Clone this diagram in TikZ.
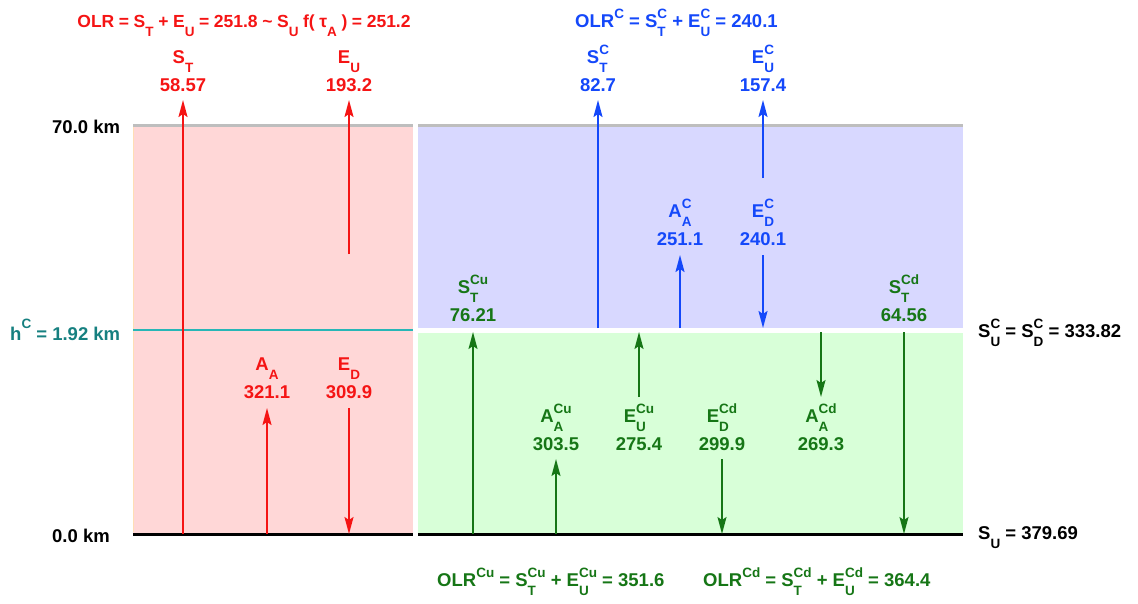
\documentclass[tikz,border=0pt]{standalone}
\usepackage{fontspec}
\setmainfont{Liberation Sans}
\usetikzlibrary{arrows.meta}

\definecolor{olrred}{RGB}{245,20,20}
\definecolor{clrblue}{RGB}{20,72,250}
\definecolor{cldgreen}{RGB}{22,118,22}
\definecolor{hteal}{RGB}{22,128,128}
\definecolor{hline}{RGB}{40,182,182}
\definecolor{pinkfill}{RGB}{255,215,215}
\definecolor{bluefill}{RGB}{216,216,255}
\definecolor{greenfill}{RGB}{216,255,216}
\definecolor{topgrey}{RGB}{190,190,190}
\definecolor{edgeorange}{RGB}{255,222,180}

% script size and the three kinds of indices
\newcommand{\scrfont}{\fontsize{13.5}{13.5}\selectfont}
\newcommand{\fs}[2]{#1\raisebox{-9pt}{\scrfont #2}}
\newcommand{\fsup}[2]{#1\raisebox{9pt}{\scrfont #2}}
\newcommand{\fx}[3]{#1\ooalign{\raisebox{9pt}{\scrfont #3}\cr\raisebox{-9pt}{\scrfont #2}\cr}}

\begin{document}
\begin{tikzpicture}[x=1pt, y=-1pt, inner sep=0pt,
    every node/.style={font=\fontsize{18.5}{28}\selectfont\bfseries},
    lbl/.style={anchor=south, align=center},
    redarr/.style={draw=olrred, line width=1.8pt, -{Stealth[length=17pt, width=9pt, inset=3pt]}},
    bluearr/.style={draw=clrblue, line width=1.8pt, -{Stealth[length=17pt, width=9pt, inset=3pt]}},
    greenarr/.style={draw=cldgreen, line width=1.6pt, -{Stealth[length=17pt, width=9pt, inset=3pt]}}]
  \useasboundingbox (0,0) rectangle (1138,603);

  % the two columns
  \fill[pinkfill] (133,125) rectangle (413,534);
  \fill[bluefill] (418,125) rectangle (963,330);
  \fill[greenfill] (418,330) rectangle (963,534);
  \draw[edgeorange, line width=1pt] (133.5,127) -- (133.5,532);
  \draw[topgrey, line width=3pt] (133,125) -- (413,125);
  \draw[topgrey, line width=3pt] (418,125) -- (963,125);
  \draw[black, line width=3pt] (133,534) -- (413,534);
  \draw[black, line width=3pt] (418,534) -- (963,534);
  \draw[hline, line width=2pt] (133,330) -- (413,330);
  \draw[white, line width=5pt] (418,330) -- (963,330);

  % heights and surface values
  \node[anchor=base west] (ztop) at (52,133) {70.0 km};
  \node[anchor=base west, hteal] (zc) at (10,340) {h\raisebox{12pt}{\scrfont C} = 1.92 km};
  \node[anchor=base west] (zbot) at (52,542) {0.0 km};
  \node[anchor=base west] (sc) at (978,337) {\fx{S}{U}{C} = \fx{S}{D}{C} = 333.82};
  \node[anchor=base west] (su) at (978,539) {\fs{S}{U} = 379.69};

  % totals
  \node[anchor=base, olrred, font=\fontsize{17.5}{28}\selectfont\bfseries] (olr) at (244,27)
    {\spaceskip=4.6pt OLR = \fs{S}{T} + \fs{E}{U} = 251.8 \textasciitilde{} \fs{S}{U} f( \fs{τ}{A} ) = 251.2};
  \node[anchor=base west, clrblue] (olrc) at (575,27)
    {OLR\fsup{}{C} = \fx{S}{T}{C} + \fx{E}{U}{C} = 240.1};
  \node[anchor=base west, cldgreen] (olrcu) at (437,586)
    {OLR\fsup{}{Cu} = \fx{S}{T}{Cu} + \fx{E}{U}{Cu} = 351.6};
  \node[anchor=base west, cldgreen] (olrcd) at (703,586)
    {OLR\fsup{}{Cd} = \fx{S}{T}{Cd} + \fx{E}{U}{Cd} = 364.4};

  % clear sky
  \node[lbl, olrred] (st) at (183,92) {\fs{S}{T}\\58.57};
  \node[lbl, olrred] (eu) at (349,92) {\fs{E}{U}\\193.2};
  \node[lbl, olrred] (aa) at (267,399) {\fs{A}{A}\\321.1};
  \node[lbl, olrred] (ed) at (349,399) {\fs{E}{D}\\309.9};
  \coordinate (st0) at (183,534);
  \coordinate (eu0) at (349,254);
  \coordinate (aa0) at (267,534);
  \coordinate (ed0) at (349,534);
  \draw[redarr, shorten >=8pt] (st0) -- (st);
  \draw[redarr, shorten >=8pt] (eu0) -- (eu);
  \draw[redarr, shorten >=9pt] (aa0) -- (aa);
  \draw[redarr, shorten <=9pt] (ed) -- (ed0);

  % above the cloud
  \node[lbl, clrblue] (stc) at (598,92) {\fx{S}{T}{C}\\82.7};
  \node[lbl, clrblue] (euc) at (763,92) {\fx{E}{U}{C}\\157.4};
  \node[lbl, clrblue] (aac) at (680,246) {\fx{A}{A}{C}\\251.1};
  \node[lbl, clrblue] (edc) at (763,246) {\fx{E}{D}{C}\\240.1};
  \coordinate (stc0) at (598,328);
  \coordinate (euc0) at (763,178);
  \coordinate (aac0) at (680,328);
  \coordinate (edc0) at (763,328);
  \draw[bluearr, shorten >=8pt] (stc0) -- (stc);
  \draw[bluearr, shorten >=8pt] (euc0) -- (euc);
  \draw[bluearr, shorten >=9pt] (aac0) -- (aac);
  \draw[bluearr, shorten <=9pt] (edc) -- (edc0);

  % below the cloud
  \node[lbl, cldgreen] (stcu) at (473,322) {\fx{S}{T}{Cu}\\76.21};
  \node[lbl, cldgreen] (stcd) at (904,322) {\fx{S}{T}{Cd}\\64.56};
  \node[lbl, cldgreen] (aacu) at (556,451) {\fx{A}{A}{Cu}\\303.5};
  \node[lbl, cldgreen] (eucu) at (639,451) {\fx{E}{U}{Cu}\\275.4};
  \node[lbl, cldgreen] (edcd) at (722,451) {\fx{E}{D}{Cd}\\299.9};
  \node[lbl, cldgreen] (aacd) at (821,451) {\fx{A}{A}{Cd}\\269.3};
  \coordinate (stcu0) at (473,534);
  \coordinate (stcu1) at (473,332);
  \coordinate (stcd0) at (904,332);
  \coordinate (stcd1) at (904,534);
  \coordinate (aacu0) at (556,534);
  \coordinate (eucu0) at (639,397);
  \coordinate (eucu1) at (639,332);
  \coordinate (edcd0) at (722,534);
  \coordinate (aacd0) at (821,332);
  \coordinate (aacd1) at (821,397);
  \draw[greenarr] (stcu0) -- (stcu1);
  \draw[greenarr] (stcd0) -- (stcd1);
  \draw[greenarr, shorten >=8pt] (aacu0) -- (aacu);
  \draw[greenarr] (eucu0) -- (eucu1);
  \draw[greenarr, shorten <=8pt] (edcd) -- (edcd0);
  \draw[greenarr] (aacd0) -- (aacd1);
\end{tikzpicture}
\end{document}
